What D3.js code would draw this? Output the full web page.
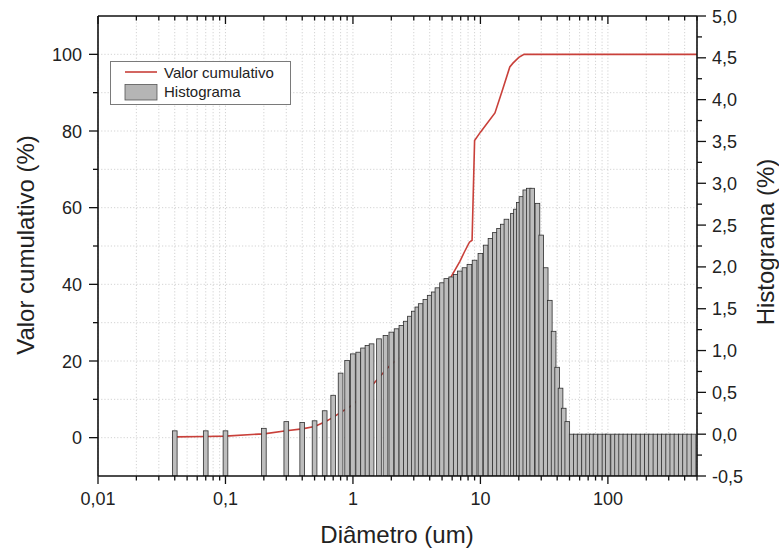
<!DOCTYPE html>
<html>
<head>
<meta charset="utf-8">
<script src="https://cdn.jsdelivr.net/npm/d3@7"></script>
<style>
  html, body { margin: 0; padding: 0; background: #fff; }
  svg { display: block; font-family: "Liberation Sans", Arial, sans-serif; }
</style>
</head>
<body>
<svg id="chart" width="779" height="551"></svg>
<script>
// ---------- data ----------
// histogram classes (diameter, um) and frequency (%)
const histDiameters = [
  0.04, 0.07, 0.1, 0.2, 0.3, 0.4, 0.5, 0.6, 0.7, 0.8, 0.9,
  1.0, 1.1, 1.2, 1.3, 1.4, 1.6, 1.8, 2.0, 2.2, 2.4, 2.6, 2.8, 3.0, 3.2, 3.4, 3.7,
  4.0, 4.3, 4.6, 5.0, 5.4, 5.9, 6.4, 6.9, 7.5, 8.2, 9.0, 10, 11, 12, 13, 14, 15,
  16, 18, 19, 20, 21, 22.5, 24, 25.5, 28, 30, 32.5, 35, 37.5, 40, 42.5, 45, 48,
  52, 56, 60, 65, 70, 75, 80, 87, 94, 100, 110, 118, 127, 137, 148, 160, 173,
  187, 202, 218, 236, 255, 275, 297, 320, 345, 373, 403, 435, 470
];
const histValues = [
  0.04, 0.04, 0.04, 0.07, 0.15, 0.14, 0.16, 0.28, 0.465, 0.73, 0.88,
  0.96, 0.98, 1.03, 1.06, 1.08, 1.14, 1.18, 1.22, 1.26, 1.30, 1.35, 1.41, 1.47, 1.52, 1.56, 1.61,
  1.66, 1.70, 1.75, 1.81, 1.86, 1.88, 1.91, 1.95, 1.99, 2.03, 2.08, 2.16, 2.26, 2.34, 2.41, 2.46, 2.51,
  2.57, 2.64, 2.69, 2.77, 2.84, 2.92, 2.94, 2.94, 2.76, 2.38, 1.99, 1.60, 1.23, 0.80, 0.55, 0.31, 0.15,
  0, 0, 0, 0, 0, 0, 0, 0, 0, 0, 0, 0, 0, 0, 0, 0, 0,
  0, 0, 0, 0, 0, 0, 0, 0, 0, 0, 0, 0, 0
];
// cumulative curve (diameter, %)
const cumDiameters = [0.04, 0.07, 0.1, 0.2, 0.3, 0.4, 0.5, 0.6, 0.7, 0.8, 0.9, 1.0, 1.4, 1.6, 2.0, 2.4,
  3.0, 4.0, 5.0, 5.9, 6.9, 7.5, 8.2, 8.6, 9.0, 10, 13, 15, 17, 18, 20, 22, 25, 50, 100, 500];
const cumValues = [0.2, 0.3, 0.4, 1.0, 1.8, 2.3, 2.9, 4.1, 5.3, 6.6, 7.6, 8.6, 13.5, 15.7, 19.2, 21.1,
  24.5, 30.5, 36.5, 42, 46, 48.5, 51, 51.5, 77.5, 79.7, 84.7, 91, 96.7, 97.7, 99.2, 100, 100, 100, 100, 100];

// axis ticks
const xMajorTicks = [0.01, 0.1, 1, 10, 100];
const xTickLabels = ["0,01", "0,1", "1", "10", "100"];
const leftMajorTicks = [0, 20, 40, 60, 80, 100];
const leftMinorTicks = [10, 30, 50, 70, 90];
const rightMajorTicks = [-0.5, 0, 0.5, 1, 1.5, 2, 2.5, 3, 3.5, 4, 4.5, 5];
const rightMinorTicks = [-0.25, 0.25, 0.75, 1.25, 1.75, 2.25, 2.75, 3.25, 3.75, 4.25, 4.75];
const gridLeftValues = [0, 10, 20, 30, 40, 50, 60, 70, 80, 90, 100];

// ---------- layout ----------
const svg = d3.select("#chart");
const L = 98, R = 697, T = 16, B = 476;
const x = d3.scaleLog().domain([0.01, 500]).range([L, R]);
const yL = d3.scaleLinear().domain([-10, 110]).range([B, T]);
const yR = d3.scaleLinear().domain([-0.5, 5.0]).range([B, T]);
const fmtComma = v => d3.format(".1f")(v).replace(".", ",").replace("\u2212", "-");

// minor x ticks (2..9 per decade)
const xMinor = [];
for (let e = -2; e <= 2; e++) {
  for (let m = 2; m <= 9; m++) {
    const v = m * Math.pow(10, e);
    if (v <= 500) xMinor.push(v);
  }
}

svg.append("defs").append("clipPath").attr("id", "plotclip")
  .append("rect").attr("x", L).attr("y", T).attr("width", R - L).attr("height", B - T);

// ---------- grid ----------
const grid = svg.append("g").attr("stroke", "#c8c8c8").attr("stroke-width", 0.8)
  .attr("stroke-dasharray", "1.2,2");
grid.selectAll("line.v").data(xMajorTicks.concat(xMinor)).enter().append("line")
  .attr("x1", d => x(d)).attr("x2", d => x(d)).attr("y1", T).attr("y2", B);
grid.selectAll("line.h").data(gridLeftValues).enter().append("line")
  .attr("x1", L).attr("x2", R).attr("y1", d => yL(d)).attr("y2", d => yL(d));

// ---------- cumulative line (under bars) ----------
const cumData = cumDiameters.map((d, i) => ({d, v: cumValues[i]}));
svg.append("path").datum(cumData)
  .attr("clip-path", "url(#plotclip)")
  .attr("fill", "none").attr("stroke", "#c9403a").attr("stroke-width", 1.6)
  .attr("d", d3.line().x(p => x(p.d)).y(p => yL(p.v)));

// ---------- histogram bars ----------
const barW = 4.7;
const histData = histDiameters.map((d, i) => ({d, v: histValues[i]}));
svg.append("g").attr("clip-path", "url(#plotclip)")
  .selectAll("rect").data(histData).enter().append("rect")
  .attr("x", p => x(p.d) - barW / 2)
  .attr("width", barW)
  .attr("y", p => yR(p.v))
  .attr("height", p => yR(-0.5) - yR(p.v))
  .attr("fill", "#bdbdbd").attr("stroke", "#2e2e2e").attr("stroke-width", 0.8);

// ---------- axes ----------
const axisColor = "#111";
const labelSize = 18;
const axes = svg.append("g");

// frame lines
axes.append("line").attr("x1", L).attr("x2", R).attr("y1", B).attr("y2", B);
axes.append("line").attr("x1", L).attr("x2", R).attr("y1", T).attr("y2", T);
axes.append("line").attr("x1", L).attr("x2", L).attr("y1", T).attr("y2", B);
axes.append("line").attr("x1", R).attr("x2", R).attr("y1", T).attr("y2", B);
axes.selectAll("line").attr("stroke", axisColor).attr("stroke-width", 1.6);

const ticks = svg.append("g").attr("stroke", axisColor).attr("stroke-width", 1.3);
// bottom ticks (outward)
ticks.selectAll("line.bM").data(xMajorTicks).enter().append("line")
  .attr("x1", d => x(d)).attr("x2", d => x(d)).attr("y1", B).attr("y2", B + 8);
ticks.selectAll("line.bm").data(xMinor).enter().append("line")
  .attr("x1", d => x(d)).attr("x2", d => x(d)).attr("y1", B).attr("y2", B + 4.5);
// top ticks (inward)
ticks.selectAll("line.tM").data(xMajorTicks).enter().append("line")
  .attr("x1", d => x(d)).attr("x2", d => x(d)).attr("y1", T).attr("y2", T + 8);
ticks.selectAll("line.tm").data(xMinor).enter().append("line")
  .attr("x1", d => x(d)).attr("x2", d => x(d)).attr("y1", T).attr("y2", T + 4.5);
// left ticks
ticks.selectAll("line.lM").data(leftMajorTicks).enter().append("line")
  .attr("x1", L - 9).attr("x2", L).attr("y1", d => yL(d)).attr("y2", d => yL(d));
ticks.selectAll("line.lm").data(leftMinorTicks).enter().append("line")
  .attr("x1", L - 5).attr("x2", L).attr("y1", d => yL(d)).attr("y2", d => yL(d));
// right ticks
ticks.selectAll("line.rM").data(rightMajorTicks).enter().append("line")
  .attr("x1", R).attr("x2", R + 9).attr("y1", d => yR(d)).attr("y2", d => yR(d));
ticks.selectAll("line.rm").data(rightMinorTicks).enter().append("line")
  .attr("x1", R).attr("x2", R + 5).attr("y1", d => yR(d)).attr("y2", d => yR(d));

const labels = svg.append("g").attr("fill", "#222").attr("font-size", labelSize);
labels.selectAll("text.x").data(xMajorTicks).enter().append("text")
  .attr("x", d => x(d)).attr("y", 505).attr("text-anchor", "middle")
  .text((d, i) => xTickLabels[i]);
labels.selectAll("text.l").data(leftMajorTicks).enter().append("text")
  .attr("x", L - 16).attr("y", d => yL(d) + 6.5).attr("text-anchor", "end")
  .text(d => d);
labels.selectAll("text.r").data(rightMajorTicks).enter().append("text")
  .attr("x", R + 15).attr("y", d => yR(d) + 6.5).attr("text-anchor", "start")
  .text(d => fmtComma(d));

// titles
const titles = svg.append("g").attr("fill", "#222").attr("font-size", 24);
titles.append("text").attr("x", 397).attr("y", 543).attr("text-anchor", "middle")
  .text("Diâmetro (um)");
titles.append("text").attr("transform", "translate(34,245) rotate(-90)")
  .attr("text-anchor", "middle").text("Valor cumulativo (%)");
titles.append("text").attr("transform", "translate(774,242) rotate(-90)")
  .attr("text-anchor", "middle").text("Histograma (%)");

// ---------- legend ----------
const lg = svg.append("g");
lg.append("rect").attr("x", 110.5).attr("y", 61.5).attr("width", 180).attr("height", 43)
  .attr("fill", "#fff").attr("stroke", "#7a7a7a").attr("stroke-width", 1);
lg.append("line").attr("x1", 125).attr("x2", 157).attr("y1", 72).attr("y2", 72)
  .attr("stroke", "#c9403a").attr("stroke-width", 1.6);
lg.append("rect").attr("x", 125).attr("y", 84.5).attr("width", 32).attr("height", 15.5)
  .attr("fill", "#b5b5b5").attr("stroke", "#555").attr("stroke-width", 0.8);
lg.append("text").attr("x", 164).attr("y", 78).attr("font-size", 15).attr("fill", "#222")
  .text("Valor cumulativo");
lg.append("text").attr("x", 164).attr("y", 97).attr("font-size", 15).attr("fill", "#222")
  .text("Histograma");
</script>
</body>
</html>
